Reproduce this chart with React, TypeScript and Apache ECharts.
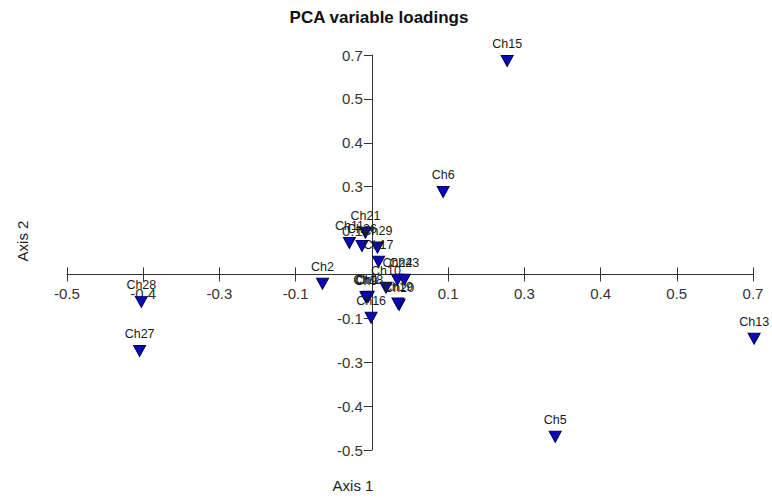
import React, { useEffect, useRef } from "react";
import * as echarts from "echarts";

// Variable names and their loadings on the two axes
const names = [
  "Ch15", "Ch6", "Ch13", "Ch5", "Ch28", "Ch27", "Ch2",
  "Ch11", "Ch26", "Ch21", "Ch29", "Ch17", "Ch24", "Ch23", "Ch10",
  "Ch1", "Ch18", "Ch9", "Ch20", "Ch19", "Ch16",
];
const axis1 = [
  0.270, 0.158, 0.702, 0.354, -0.370, -0.373, -0.053,
  -0.006, 0.016, 0.022, 0.043, 0.045, 0.078, 0.090, 0.058,
  0.025, 0.027, 0.023, 0.081, 0.079, 0.032,
];
const axis2 = [
  0.682, 0.284, -0.162, -0.460, -0.050, -0.199, 0.005,
  0.129, 0.120, 0.160, 0.115, 0.072, 0.017, 0.017, -0.007,
  -0.035, -0.034, -0.036, -0.059, -0.055, -0.098,
];
const tickLabels = ["-0.5", "-0.4", "-0.3", "-0.1", "", "0.1", "0.3", "0.4", "0.5", "0.7"];
const axisMin = -0.5;
const axisMax = 0.7;
const crossIndex = 4;

const FONT = "Liberation Sans, Arial, sans-serif";

export default function App() {
  const ref = useRef<HTMLDivElement>(null);
  useEffect(() => {
    if (!ref.current) return;
    const chart = echarts.init(ref.current, null, { renderer: "svg" });
    const gridLeft = 67, gridTop = 55, gridW = 686, gridH = 395;
    const steps = tickLabels.length - 1;
    const step = (axisMax - axisMin) / steps;
    const tickVals = tickLabels.map((_, k) => axisMin + k * step);
    const fmt = (v: number) => tickLabels[Math.round((v - axisMin) / step)] ?? "";
    const lineColor = "#333";
    const baseX = {
      type: "value",
      min: axisMin,
      max: axisMax,
      position: "bottom",
      offset: -gridH * crossIndex / steps,
      splitLine: { show: false },
      axisLine: { onZero: false, show: true, lineStyle: { color: lineColor, width: 1 } },
    };
    const data = names.map((n, i) => ({ name: n, value: [axis1[i], axis2[i]] }));
    chart.setOption({
      animation: false,
      backgroundColor: "#fff",
      grid: { left: gridLeft, top: gridTop, width: gridW, height: gridH, containLabel: false, outerBoundsMode: "none" },
      xAxis: [
        {
          ...baseX,
          axisTick: { show: true, inside: false, length: 7, customValues: tickVals, lineStyle: { color: lineColor } },
          axisLabel: {
            show: true, customValues: tickVals, formatter: fmt, margin: 12,
            color: "#333", fontSize: 15, fontFamily: FONT,
          },
        },
        {
          ...baseX,
          axisLine: { onZero: false, show: false },
          axisTick: { show: true, inside: true, length: 7, customValues: tickVals, lineStyle: { color: lineColor } },
          axisLabel: { show: false },
        },
      ],
      yAxis: {
        type: "value",
        min: axisMin,
        max: axisMax,
        position: "left",
        offset: -gridW * crossIndex / steps,
        splitLine: { show: false },
        axisLine: { onZero: false, show: true, lineStyle: { color: lineColor, width: 1 } },
        axisTick: { show: true, inside: false, length: 8, customValues: tickVals, lineStyle: { color: lineColor } },
        axisLabel: {
          show: true, customValues: tickVals, formatter: fmt, margin: 9,
          color: "#333", fontSize: 15, fontFamily: FONT,
        },
      },
      graphic: [
        {
          type: "text", x: 379, y: 17,
          style: { text: "PCA variable loadings", fill: "#111", font: `bold 17px ${FONT}`, textAlign: "center", textVerticalAlign: "middle" },
        },
        {
          type: "text", x: 353, y: 485,
          style: { text: "Axis 1", fill: "#222", font: `15px ${FONT}`, textAlign: "center", textVerticalAlign: "middle" },
        },
        {
          type: "text", x: 22, y: 241, rotation: Math.PI / 2,
          style: { text: "Axis 2", fill: "#222", font: `15px ${FONT}`, textAlign: "center", textVerticalAlign: "middle" },
        },
      ],
      series: [
        {
          type: "scatter",
          xAxisIndex: 0,
          data,
          clip: false,
          symbol: "triangle",
          symbolRotate: 180,
          symbolSize: [12, 11],
          itemStyle: { color: "#0a0ab8", borderColor: "#00005a", borderWidth: 1, opacity: 1 },
          label: {
            show: true, position: "top", distance: 4,
            formatter: (p: any) => p.name,
            color: "#1a1a1a", fontSize: 12.5, fontFamily: FONT,
          },
          labelLayout: { hideOverlap: false },
          emphasis: { disabled: true },
        },
      ],
    });
    return () => chart.dispose();
  }, []);
  return (
    <div
      ref={ref}
      style={{ position: "fixed", left: 0, top: 0, width: 772, height: 498, background: "#fff" }}
    />
  );
}
